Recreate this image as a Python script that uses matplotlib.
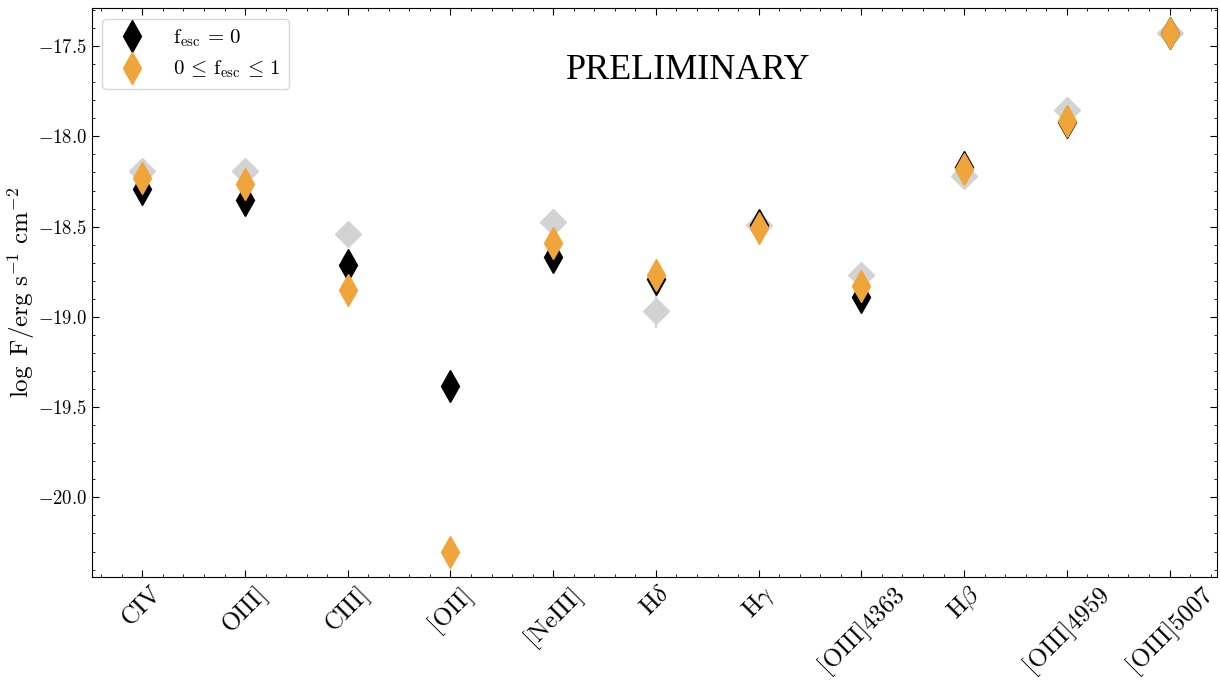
import matplotlib
matplotlib.use("Agg")
from matplotlib import pyplot as plt
from matplotlib.ticker import MultipleLocator

plt.rcParams["font.family"] = "serif"
plt.rcParams["font.serif"] = ["cmr10"]
plt.rcParams["mathtext.fontset"] = "cm"
plt.rcParams["axes.formatter.use_mathtext"] = True

lines = ["CIV", "OIII]", "CIII]", "[OII]", "[NeIII]", r"H$\delta$", r"H$\gamma$",
         "[OIII]4363", r"H$\beta$", "[OIII]4959", "[OIII]5007"]

# observed fluxes (grey), None where not measured
obs = [-18.19, -18.19, -18.54, None, -18.475, -18.97, -18.49, -18.77, -18.22, -17.855, -17.43]
obs_err = [0.01, 0.01, 0.01, None, 0.01, 0.09, 0.01, 0.01, 0.01, 0.01, 0.01]
# model fluxes
model_f0 = [-18.29, -18.35, -18.71, -19.385, -18.67, -18.79, -18.49, -18.89, -18.17, -17.92, -17.43]
model_free = [-18.23, -18.265, -18.85, -20.30, -18.59, -18.77, -18.51, -18.83, -18.18, -17.915, -17.43]

ORANGE = "#f0a53a"
GREY = "#d3d3d3"

fig = plt.figure(figsize=(12.2, 6.85), dpi=100)
ax = fig.add_axes([0.0754, 0.158, 0.922, 0.830])

x = list(range(len(lines)))
ox = [i for i in x if obs[i] is not None]
ax.errorbar(ox, [obs[i] for i in ox], yerr=[obs_err[i] for i in ox], fmt="D",
            color=GREY, ms=13, elinewidth=1.5, capsize=0, zorder=1)
ax.plot(x, model_f0, "d", color="black", ms=16,
        label=r"$\mathrm{f}_{\mathrm{esc}} \,=\, 0$", zorder=2)
ax.plot(x, model_free, "d", color=ORANGE, ms=16,
        label=r"$0 \,\leq\, \mathrm{f}_{\mathrm{esc}} \,\leq\, 1$", zorder=3)

ax.set_xlim(-0.49, 10.46)
ax.set_ylim(-20.44, -17.29)
ax.set_xticks(x)
ax.set_xticklabels(lines, rotation=45, fontsize=18)
ax.xaxis.set_minor_locator(MultipleLocator(0.2))
ax.yaxis.set_major_locator(MultipleLocator(0.5))
ax.yaxis.set_minor_locator(MultipleLocator(0.1))
ax.tick_params(which="both", direction="in", top=True, right=True)
ax.tick_params(axis="y", labelsize=13.5)
ax.tick_params(which="major", length=5)
ax.tick_params(which="minor", length=2.5)

ax.set_ylabel(r"$\log\ \rm F/erg\ s^{-1}\ cm^{-2}$", fontsize=18, labelpad=1)
ax.text(0.53, 0.89, "PRELIMINARY", transform=ax.transAxes, ha="center", va="center",
        fontsize=26, family="Liberation Serif")
ax.legend(loc="upper left", fontsize=15, handletextpad=1.0, borderpad=0.4)

plt.savefig("out.png", dpi=100)
